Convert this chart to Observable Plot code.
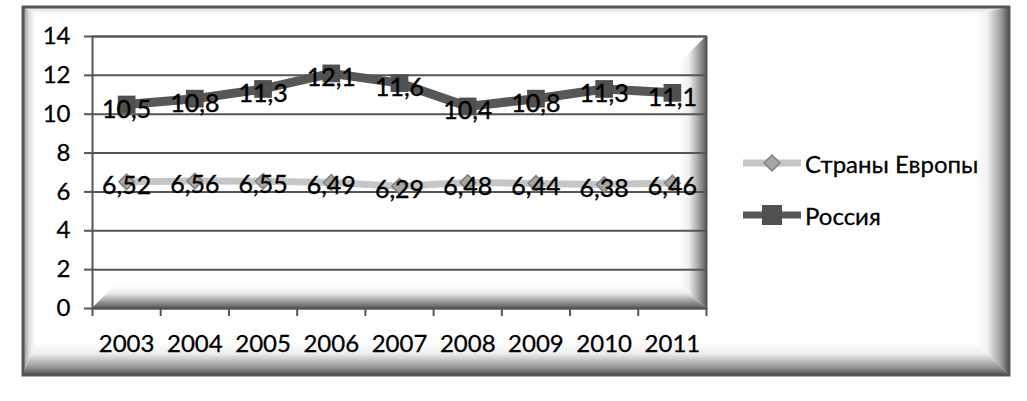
<!DOCTYPE html>
<html><head><meta charset="utf-8">
<script src="https://cdn.jsdelivr.net/npm/d3@7"></script>
<script src="https://cdn.jsdelivr.net/npm/@observablehq/plot@0.6"></script>
<style>
body{margin:0;background:#fff;}
#wrap{position:relative;width:1027px;height:401px;font-family:Lato,sans-serif;}
#wrap svg{display:block;}
#wrap text{paint-order:stroke;}
#legend{position:absolute;left:743px;top:137px;font-size:24px;color:#000;font-family:Lato,sans-serif;-webkit-text-stroke:0.3px #000;}
.row{display:flex;align-items:center;height:52px;}
.row svg{margin-right:4px;}
</style></head><body><div id="wrap"></div>
<script>
const years = [2003, 2004, 2005, 2006, 2007, 2008, 2009, 2010, 2011];
const europe = [6.52, 6.56, 6.55, 6.49, 6.29, 6.48, 6.44, 6.38, 6.46];
const russia = [10.5, 10.8, 11.3, 12.1, 11.6, 10.4, 10.8, 11.3, 11.1];
const seriesNames = ["Страны Европы", "Россия"];
const yTicks = [0, 2, 4, 6, 8, 10, 12, 14];

const euroRows = years.map((y, i) => ({year: y, value: europe[i], series: seriesNames[0]}));
const rusRows = years.map((y, i) => ({year: y, value: russia[i], series: seriesNames[1]}));
const boundaries = years.map(y => y - 0.5).concat([years[years.length - 1] + 0.5]);
const fmt = v => String(v).replace(".", ",");

function bevels(index, scales, values, dims) {
  const W = dims.width, H = dims.height;
  const px0 = dims.marginLeft, py0 = dims.marginTop, px1 = W - dims.marginRight, py1 = H - dims.marginBottom;
  const X0 = 23, Y0 = 7, X1 = 1009, Y1 = 375;
  const g = d3.create("svg:g");
  const defs = g.append("defs");
  function grad(id, x1, y1, x2, y2, stops) {
    const lg = defs.append("linearGradient").attr("id", id).attr("x1", x1).attr("y1", y1).attr("x2", x2).attr("y2", y2);
    stops.forEach(([o, c]) => lg.append("stop").attr("offset", o).attr("stop-color", c));
  }
  grad("gL", 0, 0, 1, 0, [[0, "#8a8a8a"], [0.5, "#dcdcdc"], [1, "#ffffff"]]);
  grad("gT", 0, 0, 0, 1, [[0, "#d8d8d8"], [1, "#ffffff"]]);
  grad("gR", 0, 0, 1, 0, [[0, "#ffffff"], [0.35, "#f2f2f2"], [0.75, "#a0a0a0"], [1, "#555555"]]);
  grad("gB", 0, 0, 0, 1, [[0, "#ffffff"], [0.35, "#eeeeee"], [0.75, "#999999"], [1, "#505050"]]);
  grad("pR", 0, 0, 1, 0, [[0, "#ffffff"], [0.35, "#eeeeee"], [0.75, "#9a9a9a"], [1, "#5e5e5e"]]);
  grad("pB", 0, 0, 0, 1, [[0, "#ffffff"], [0.35, "#e8e8e8"], [0.75, "#909090"], [1, "#5a5a5a"]]);
  const poly = (pts, fill) => g.append("polygon").attr("points", pts.map(p => p.join(",")).join(" ")).attr("fill", fill);
  // outer frame
  g.append("rect").attr("x", X0).attr("y", Y0).attr("width", X1 - X0).attr("height", Y1 - Y0).attr("fill", "#fff");
  const bl = 12, bt = 7, br = 34, bb = 33;
  poly([[X0, Y0], [X1, Y0], [X1 - br, Y0 + bt], [X0 + bl, Y0 + bt]], "url(#gT)");
  poly([[X0, Y0], [X0 + bl, Y0 + bt], [X0 + bl, Y1 - bb], [X0, Y1]], "url(#gL)");
  poly([[X1, Y0], [X1, Y1], [X1 - br, Y1 - bb], [X1 - br, Y0 + bt]], "url(#gR)");
  poly([[X0, Y1], [X1, Y1], [X1 - br, Y1 - bb], [X0 + bl, Y1 - bb]], "url(#gB)");
  g.append("rect").attr("x", X0).attr("y", Y0).attr("width", X1 - X0).attr("height", Y1 - Y0)
    .attr("fill", "none").attr("stroke", "#555").attr("stroke-width", 3);
  // plot area
  g.append("rect").attr("x", px0).attr("y", py0).attr("width", px1 - px0).attr("height", py1 - py0).attr("fill", "#fff");
  const pr = 26, pb = 22;
  poly([[px1, py0], [px1, py1], [px1 - pr, py1 - pb], [px1 - pr, py0 + pr]], "url(#pR)");
  poly([[px0, py1], [px1, py1], [px1 - pr, py1 - pb], [px0 + pb, py1 - pb]], "url(#pB)");
  return g.node();
}

const chart = Plot.plot({
  width: 1027,
  height: 401,
  marginLeft: 92,
  marginRight: 321,
  marginTop: 36,
  marginBottom: 93,
  style: {fontFamily: "Lato, sans-serif", fontSize: "23px", color: "#000", background: "transparent", overflow: "visible"},
  x: {domain: [boundaries[0], boundaries[boundaries.length - 1]]},
  y: {domain: [0, 14]},
  marks: [
    bevels,
    Plot.gridY(yTicks, {stroke: "#555", strokeOpacity: 1, strokeWidth: 2}),
    Plot.frame({stroke: "#555", strokeWidth: 2}),
    Plot.axisY({ticks: yTicks, tickSize: 8, tickPadding: 14, stroke: "#555", strokeWidth: 2, fontSize: 24, label: null, tickFormat: d => String(d), textStroke: "#000", textStrokeWidth: 0.3}),
    Plot.axisX({ticks: boundaries, tickSize: 8, tickFormat: () => "", stroke: "#555", strokeWidth: 2, label: null}),
    Plot.axisX({ticks: years, tickSize: 0, tickPadding: 26, tickFormat: d => String(d), fontSize: 24, label: null, textStroke: "#000", textStrokeWidth: 0.3}),
    Plot.line(euroRows, {x: "year", y: "value", stroke: "#c6c6c6", strokeWidth: 7}),
    Plot.dot(euroRows, {x: "year", y: "value", symbol: "diamond2", r: 7, fill: "#a6a6a6", stroke: "#808080", strokeWidth: 1.5}),
    Plot.line(rusRows, {x: "year", y: "value", stroke: "#575757", strokeWidth: 9}),
    Plot.dot(rusRows, {x: "year", y: "value", symbol: "square", r: 10, fill: "#505050", stroke: "none"}),
    Plot.text(euroRows, {x: "year", y: "value", text: d => fmt(d.value), fontSize: 25, dy: 4, fill: "#000", stroke: "#000", strokeWidth: 0.4}),
    Plot.text(rusRows, {x: "year", y: "value", text: d => fmt(d.value), fontSize: 25, dy: 5, fill: "#000", stroke: "#000", strokeWidth: 0.4})
  ]
});

const wrap = document.getElementById("wrap");
wrap.appendChild(chart);

const legend = document.createElement("div");
legend.id = "legend";
legend.innerHTML =
  `<div class="row"><svg width="58" height="24"><line x1="0" x2="58" y1="12" y2="12" stroke="#c6c6c6" stroke-width="7"/><polygon points="29,4 37,12 29,20 21,12" fill="#a6a6a6" stroke="#808080" stroke-width="1.5"/></svg><span>${seriesNames[0]}</span></div>` +
  `<div class="row"><svg width="58" height="24"><line x1="0" x2="58" y1="12" y2="12" stroke="#575757" stroke-width="7"/><rect x="19" y="2" width="20" height="20" fill="#505050"/></svg><span>${seriesNames[1]}</span></div>`;
wrap.appendChild(legend);
</script>
</body></html>
